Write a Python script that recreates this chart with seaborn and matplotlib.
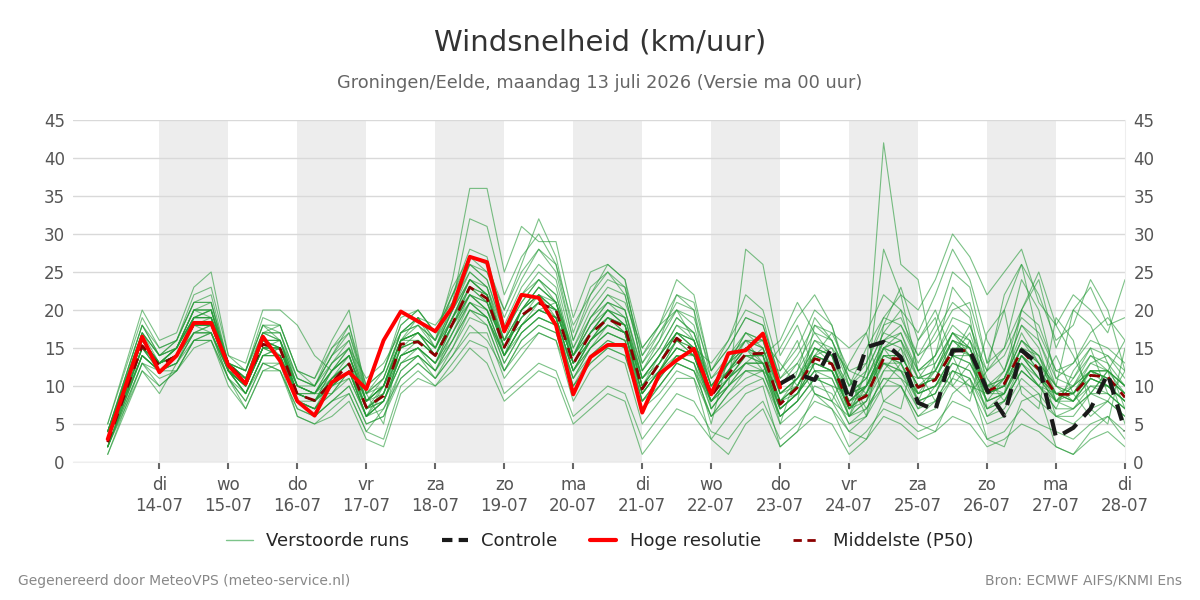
import pandas as pd
import matplotlib
matplotlib.use('Agg')
import matplotlib.pyplot as plt
from matplotlib.lines import Line2D
import seaborn as sns

# time axis: first two steps 12h apart, then 6-hourly until 28-07
times = pd.to_datetime(['2026-07-13 06:00', '2026-07-13 18:00']).append(
    pd.date_range('2026-07-14 00:00', '2026-07-28 00:00', freq='6h'))

day_names = ['di', 'wo', 'do', 'vr', 'za', 'zo', 'ma', 'di', 'wo', 'do', 'vr', 'za', 'zo', 'ma', 'di']
day_dates = ['14-07', '15-07', '16-07', '17-07', '18-07', '19-07', '20-07', '21-07',
             '22-07', '23-07', '24-07', '25-07', '26-07', '27-07', '28-07']

# hoge resolutie run (ends 23-07 00)
hres = [3.0, 16.5,
        11.8, 14.0, 18.3, 18.3,
        12.7, 10.3, 16.5, 13.3,
        8.0, 6.1, 10.5, 11.8,
        9.6, 16.0, 19.8, 18.5,
        17.2, 20.4, 27.0, 26.3,
        17.2, 22.0, 21.6, 18.0,
        8.9, 13.8, 15.4, 15.4,
        6.5, 11.6, 13.4, 14.9,
        8.9, 14.3, 14.7, 16.9,
        9.8]

# controle run (shown from 23-07 00)
controle = [10.3, 11.6, 10.8, 15.1,
            8.1, 15.1, 15.8, 13.8,
            7.8, 6.8, 14.7, 14.7,
            9.5, 6.1, 14.7, 12.9,
            3.2, 4.5, 7.0, 11.6,
            4.1]

# middelste (P50)
p50 = [2.6, 15.3,
       12.7, 14.0, 18.3, 18.3,
       12.9, 10.5, 15.5, 14.9,
       8.9, 8.1, 10.5, 12.9,
       7.2, 8.7, 15.5, 15.8,
       14.0, 18.2, 23.0, 21.5,
       15.1, 19.3, 20.9, 20.0,
       12.9, 16.9, 18.8, 17.8,
       9.6, 13.0, 16.3, 14.6,
       8.7, 11.6, 14.2, 14.3,
       7.6, 9.8, 13.6, 12.9,
       7.5, 8.7, 13.6, 13.6,
       9.8, 10.8, 14.6, 14.7,
       9.3, 10.3, 14.7, 12.2,
       8.9, 8.9, 11.4, 11.2,
       8.5]

# verstoorde runs (ensemble members)
members = [
    [4, 17, 14, 15, 19, 19, 13, 11, 16, 14, 8, 7, 11, 14, 8, 10, 17, 18, 15, 20, 24, 22, 14, 20, 22, 19, 12, 16, 18, 17, 9, 12, 15, 14, 8, 11, 13, 15, 7, 9, 15, 14, 9, 10, 13, 12, 11, 12, 16, 14, 8, 11, 17, 13, 10, 8, 12, 10, 8],
    [2, 14, 12, 13, 17, 17, 12, 9, 14, 15, 10, 9, 9, 12, 6, 8, 14, 15, 13, 17, 22, 20, 16, 18, 20, 21, 14, 18, 20, 19, 11, 14, 17, 16, 10, 13, 16, 15, 9, 11, 13, 12, 7, 8, 15, 16, 9, 10, 14, 17, 10, 9, 14, 11, 8, 10, 12, 12, 10],
    [5, 19, 15, 16, 21, 22, 13, 12, 18, 16, 11, 10, 14, 17, 10, 12, 19, 20, 17, 22, 28, 27, 18, 23, 26, 24, 15, 20, 23, 22, 13, 17, 20, 19, 12, 15, 19, 18, 11, 14, 18, 17, 12, 13, 18, 19, 14, 16, 20, 21, 13, 15, 20, 18, 12, 13, 16, 15, 13],
    [1, 13, 11, 12, 16, 16, 11, 8, 13, 12, 7, 6, 8, 10, 5, 6, 11, 13, 11, 14, 18, 16, 12, 15, 17, 16, 10, 13, 15, 14, 7, 9, 12, 11, 6, 8, 10, 11, 5, 7, 10, 9, 5, 6, 10, 10, 6, 7, 11, 10, 5, 6, 10, 8, 6, 5, 7, 8, 6],
    [3, 16, 13, 15, 20, 21, 12, 11, 17, 18, 12, 11, 16, 20, 9, 5, 16, 19, 18, 21, 32, 31, 22, 27, 30, 26, 18, 22, 26, 24, 12, 16, 22, 20, 7, 10, 28, 26, 14, 18, 12, 8, 6, 12, 17, 20, 17, 22, 28, 24, 16, 12, 20, 25, 18, 14, 9, 12, 16],
    [2, 15, 12, 14, 18, 18, 13, 10, 15, 16, 8, 7, 9, 12, 6, 10, 14, 15, 13, 18, 21, 19, 13, 17, 19, 18, 11, 15, 17, 16, 8, 11, 14, 13, 5, 14, 16, 13, 6, 8, 18, 16, 11, 7, 10, 13, 8, 9, 14, 18, 11, 8, 13, 10, 7, 12, 15, 9, 7],
    [4, 18, 14, 16, 22, 23, 14, 13, 20, 20, 18, 14, 12, 15, 11, 13, 17, 19, 16, 20, 26, 24, 17, 21, 24, 22, 14, 19, 22, 21, 15, 18, 24, 22, 12, 16, 20, 19, 10, 12, 16, 15, 12, 11, 16, 17, 12, 13, 17, 15, 9, 12, 18, 16, 11, 10, 14, 12, 10],
    [2, 12, 9, 13, 16, 17, 11, 7, 12, 13, 6, 5, 7, 9, 4, 3, 10, 12, 10, 13, 16, 15, 9, 11, 13, 12, 6, 8, 10, 9, 3, 6, 9, 8, 4, 3, 6, 8, 3, 5, 8, 7, 2, 4, 7, 6, 4, 5, 8, 7, 3, 4, 7, 5, 4, 3, 5, 6, 3],
    [3, 16, 13, 14, 19, 20, 12, 10, 16, 15, 9, 9, 13, 16, 8, 10, 16, 17, 14, 19, 22, 21, 15, 20, 23, 21, 13, 17, 19, 17, 10, 12, 16, 14, 9, 13, 15, 13, 8, 9, 12, 12, 7, 9, 13, 11, 9, 10, 13, 12, 8, 9, 13, 10, 9, 8, 11, 10, 8],
    [5, 20, 16, 17, 23, 25, 14, 12, 19, 18, 12, 10, 14, 16, 9, 12, 18, 20, 17, 23, 27, 25, 19, 24, 28, 26, 16, 21, 24, 23, 14, 17, 21, 20, 11, 14, 17, 16, 9, 11, 14, 13, 8, 10, 15, 16, 11, 12, 17, 16, 10, 11, 16, 14, 10, 9, 12, 12, 9],
    [3, 14, 12, 13, 17, 17, 12, 9, 14, 14, 9, 8, 10, 12, 7, 8, 13, 14, 12, 16, 20, 19, 14, 17, 19, 18, 12, 15, 17, 16, 9, 12, 14, 13, 8, 11, 13, 12, 7, 9, 12, 11, 6, 8, 12, 12, 8, 9, 13, 12, 7, 8, 12, 10, 8, 7, 10, 9, 7],
    [2, 13, 12, 12, 16, 17, 11, 9, 13, 13, 8, 6, 8, 10, 5, 6, 12, 14, 11, 14, 17, 17, 11, 14, 17, 16, 8, 12, 14, 13, 5, 8, 11, 11, 3, 6, 9, 10, 2, 4, 9, 8, 4, 3, 8, 10, 5, 4, 9, 11, 3, 2, 8, 9, 2, 1, 4, 6, 4],
    [4, 17, 14, 15, 20, 20, 13, 11, 17, 17, 10, 10, 14, 18, 9, 11, 17, 19, 15, 21, 25, 23, 16, 22, 25, 23, 14, 18, 21, 20, 11, 14, 18, 17, 10, 12, 15, 16, 9, 10, 14, 15, 9, 11, 16, 15, 11, 11, 16, 15, 10, 10, 15, 14, 9, 9, 13, 14, 11],
    [3, 15, 13, 14, 18, 19, 12, 10, 15, 15, 9, 8, 12, 14, 7, 9, 16, 17, 14, 19, 24, 23, 15, 19, 22, 20, 13, 16, 19, 18, 10, 13, 17, 15, 9, 12, 15, 14, 8, 10, 14, 13, 7, 10, 28, 22, 12, 14, 18, 16, 9, 10, 15, 13, 9, 10, 12, 11, 9],
    [3, 16, 13, 15, 19, 19, 13, 11, 16, 15, 10, 9, 11, 13, 8, 10, 16, 16, 14, 18, 23, 22, 15, 19, 21, 20, 13, 16, 18, 17, 9, 12, 15, 14, 8, 11, 13, 13, 7, 9, 13, 12, 8, 9, 13, 12, 9, 10, 14, 13, 9, 9, 14, 11, 9, 8, 11, 10, 8],
    [2, 14, 12, 14, 18, 18, 12, 10, 15, 14, 8, 7, 10, 12, 6, 9, 14, 15, 13, 18, 22, 20, 14, 18, 20, 19, 12, 16, 18, 17, 9, 12, 15, 14, 8, 11, 14, 13, 7, 9, 12, 12, 7, 12, 42, 26, 24, 12, 10, 13, 9, 10, 14, 12, 8, 9, 11, 10, 8],
    [4, 18, 14, 16, 21, 21, 13, 12, 18, 17, 11, 10, 15, 17, 9, 11, 17, 18, 16, 22, 26, 24, 17, 22, 24, 22, 14, 19, 21, 20, 12, 15, 19, 17, 10, 13, 16, 16, 9, 11, 15, 14, 9, 10, 15, 14, 10, 12, 16, 15, 10, 11, 15, 13, 10, 9, 12, 12, 10],
    [2, 13, 10, 12, 16, 16, 11, 8, 13, 12, 7, 6, 8, 9, 4, 7, 11, 13, 11, 15, 19, 18, 12, 16, 18, 17, 10, 13, 15, 14, 7, 10, 13, 12, 6, 9, 12, 12, 6, 8, 11, 10, 5, 7, 11, 10, 6, 8, 12, 11, 6, 7, 11, 9, 6, 6, 9, 8, 6],
    [3, 15, 13, 14, 18, 18, 13, 10, 15, 15, 9, 8, 11, 13, 7, 9, 15, 16, 14, 18, 23, 21, 15, 19, 21, 20, 13, 17, 19, 18, 10, 13, 16, 15, 9, 12, 14, 14, 16, 21, 17, 14, 10, 13, 19, 22, 20, 24, 30, 27, 22, 25, 28, 21, 18, 22, 20, 17, 24],
    [3, 16, 13, 15, 19, 20, 12, 10, 16, 16, 9, 9, 12, 15, 8, 10, 16, 17, 15, 19, 24, 22, 15, 20, 22, 20, 13, 17, 20, 18, 10, 14, 17, 15, 13, 16, 22, 20, 12, 15, 20, 18, 10, 15, 19, 18, 14, 18, 25, 23, 13, 20, 26, 22, 16, 18, 24, 20, 12],
    [3, 15, 12, 14, 18, 18, 12, 10, 15, 15, 8, 8, 10, 12, 7, 8, 14, 15, 13, 17, 21, 20, 14, 18, 20, 19, 12, 16, 18, 17, 9, 12, 15, 14, 8, 10, 13, 13, 7, 9, 13, 12, 6, 8, 13, 13, 8, 9, 14, 13, 8, 9, 13, 11, 8, 8, 10, 10, 8],
    [4, 17, 13, 15, 20, 20, 13, 11, 17, 16, 10, 9, 13, 15, 8, 10, 16, 17, 15, 20, 24, 22, 16, 20, 23, 21, 14, 17, 20, 19, 11, 14, 17, 16, 9, 12, 15, 14, 8, 10, 14, 13, 8, 10, 14, 14, 10, 11, 15, 14, 9, 10, 14, 12, 9, 9, 12, 11, 9],
    [3, 14, 12, 14, 17, 18, 12, 9, 14, 15, 8, 7, 10, 12, 6, 8, 14, 15, 12, 17, 21, 19, 14, 18, 20, 19, 12, 15, 18, 17, 8, 11, 14, 14, 7, 10, 13, 13, 12, 16, 9, 8, 13, 17, 8, 7, 16, 19, 10, 8, 17, 20, 9, 7, 19, 16, 7, 5, 15],
    [2, 14, 12, 13, 17, 17, 12, 9, 14, 14, 8, 7, 9, 11, 6, 8, 13, 14, 12, 16, 20, 19, 13, 17, 19, 18, 11, 15, 17, 16, 8, 11, 14, 13, 7, 10, 12, 12, 6, 8, 11, 11, 6, 7, 11, 11, 7, 8, 12, 11, 7, 8, 12, 10, 7, 7, 9, 9, 7],
    [3, 16, 13, 14, 19, 19, 13, 10, 16, 15, 9, 8, 11, 13, 7, 10, 16, 18, 16, 24, 36, 36, 25, 31, 29, 29, 19, 25, 26, 24, 15, 18, 20, 16, 10, 13, 17, 15, 9, 11, 15, 14, 8, 10, 15, 14, 10, 11, 16, 14, 9, 10, 15, 12, 9, 9, 12, 11, 9],
    [3, 15, 13, 14, 18, 18, 12, 10, 15, 15, 9, 8, 11, 13, 7, 9, 14, 16, 14, 18, 22, 20, 14, 18, 21, 19, 12, 16, 19, 17, 9, 12, 16, 14, 8, 11, 14, 14, 7, 9, 13, 12, 7, 9, 14, 13, 9, 10, 14, 14, 8, 9, 14, 11, 9, 8, 11, 10, 8],
    [1, 12, 10, 12, 15, 16, 10, 7, 12, 12, 6, 5, 6, 8, 3, 2, 9, 11, 10, 12, 15, 13, 8, 10, 12, 11, 5, 7, 9, 8, 1, 4, 7, 6, 3, 1, 5, 7, 2, 4, 6, 5, 1, 3, 6, 5, 3, 4, 6, 5, 2, 3, 5, 4, 2, 1, 3, 4, 2],
    [4, 18, 15, 16, 21, 21, 13, 12, 18, 18, 12, 11, 15, 18, 10, 12, 18, 20, 17, 22, 27, 26, 20, 25, 28, 25, 16, 22, 25, 23, 14, 18, 22, 21, 12, 15, 19, 18, 11, 13, 17, 16, 10, 12, 17, 16, 12, 14, 19, 18, 12, 14, 19, 17, 12, 11, 15, 14, 12],
    [3, 15, 13, 14, 18, 18, 12, 10, 15, 15, 9, 8, 11, 13, 7, 9, 15, 16, 14, 18, 22, 21, 15, 19, 21, 20, 13, 16, 19, 18, 10, 13, 16, 15, 9, 11, 14, 14, 5, 12, 19, 16, 11, 6, 18, 23, 16, 20, 14, 9, 12, 22, 26, 16, 10, 20, 23, 18, 19],
    [3, 16, 13, 15, 19, 19, 13, 11, 16, 16, 10, 9, 12, 14, 8, 10, 16, 17, 14, 19, 23, 22, 15, 20, 22, 20, 14, 17, 20, 18, 11, 13, 17, 15, 9, 12, 15, 14, 8, 10, 14, 13, 8, 10, 14, 14, 10, 11, 15, 15, 9, 10, 15, 12, 9, 9, 12, 11, 9],
    [3, 16, 13, 15, 19, 20, 12, 11, 16, 15, 10, 9, 12, 14, 8, 11, 17, 19, 16, 21, 26, 25, 20, 26, 32, 27, 17, 23, 25, 22, 13, 16, 20, 18, 10, 13, 15, 12, 15, 19, 22, 18, 11, 9, 16, 18, 13, 17, 21, 19, 7, 9, 20, 24, 15, 20, 18, 13, 10],
    [2, 15, 12, 14, 17, 18, 12, 10, 15, 14, 9, 8, 10, 12, 6, 8, 13, 15, 13, 16, 21, 19, 14, 18, 20, 19, 10, 14, 16, 15, 8, 10, 13, 12, 6, 9, 11, 12, 10, 13, 9, 7, 4, 6, 12, 15, 8, 13, 17, 14, 6, 8, 12, 10, 14, 9, 6, 8, 12],
    [4, 17, 14, 15, 20, 20, 13, 12, 17, 17, 11, 10, 13, 15, 9, 10, 16, 17, 15, 20, 25, 23, 17, 21, 24, 21, 15, 19, 22, 20, 12, 15, 19, 17, 11, 13, 17, 16, 13, 10, 14, 17, 15, 17, 22, 20, 12, 8, 11, 16, 12, 15, 24, 20, 11, 13, 17, 19, 16],
    [3, 14, 12, 13, 18, 17, 12, 9, 14, 14, 8, 7, 10, 11, 6, 7, 12, 14, 12, 15, 20, 18, 12, 16, 18, 17, 11, 14, 16, 15, 7, 10, 13, 12, 8, 10, 12, 11, 6, 8, 11, 10, 9, 11, 15, 12, 7, 10, 12, 10, 9, 11, 16, 13, 6, 7, 9, 12, 5],
    [3, 15, 13, 14, 19, 19, 12, 10, 16, 16, 9, 8, 12, 14, 8, 9, 15, 16, 14, 19, 23, 21, 16, 20, 23, 21, 14, 18, 21, 19, 10, 13, 17, 16, 9, 12, 14, 13, 8, 11, 16, 14, 6, 10, 15, 17, 11, 14, 23, 20, 10, 12, 18, 15, 8, 11, 14, 13, 7],
    [4, 16, 13, 15, 20, 19, 13, 11, 17, 16, 10, 9, 12, 14, 8, 10, 15, 17, 15, 19, 24, 22, 16, 20, 22, 21, 13, 17, 20, 18, 11, 14, 18, 16, 9, 12, 16, 15, 8, 10, 15, 13, 7, 9, 14, 13, 9, 12, 17, 15, 9, 11, 16, 14, 8, 10, 13, 12, 10],
]

# long table for seaborn
ens = pd.concat([pd.DataFrame({'tijd': times, 'wind': m, 'run': i}) for i, m in enumerate(members)])
hres_df = pd.DataFrame({'tijd': times[:len(hres)], 'wind': hres})
ctrl_df = pd.DataFrame({'tijd': times[len(hres) - 1:], 'wind': controle})
p50_df = pd.DataFrame({'tijd': times, 'wind': p50})

sns.set_style('white')
plt.rcParams['font.family'] = ['DejaVu Sans']

fig = plt.figure(figsize=(12, 6), dpi=100)
ax = fig.add_axes([0.061, 0.23, 0.8765, 0.57])

# grey band every other day
for d in range(14, 28, 2):
    ax.axvspan(pd.Timestamp(2026, 7, d), pd.Timestamp(2026, 7, d + 1), color='#ededed', lw=0, zorder=0)

sns.lineplot(data=ens, x='tijd', y='wind', units='run', estimator=None, color='#259a37',
             alpha=0.6, lw=0.8, ax=ax, legend=False)
sns.lineplot(data=p50_df, x='tijd', y='wind', color='#8b0000', lw=2, ax=ax, legend=False)
ax.lines[-1].set_dashes([4, 3])
sns.lineplot(data=ctrl_df, x='tijd', y='wind', color='#1a1a1a', lw=3, ax=ax, legend=False)
ax.lines[-1].set_dashes([4, 2.5])
sns.lineplot(data=hres_df, x='tijd', y='wind', color='#ff0000', lw=2.8, ax=ax, legend=False)

ax.set_xlim(pd.Timestamp('2026-07-12 18:00'), pd.Timestamp('2026-07-28 00:00'))
ax.set_ylim(0, 45)
ax.set_yticks(range(0, 50, 5))
ax.yaxis.grid(True, color='#d9d9d9', lw=1)
ax.set_axisbelow(True)
ax.tick_params(axis='y', length=0, labelright=True, labelsize=12, labelcolor='#555555', pad=6)

ax.set_xticks([pd.Timestamp(2026, 7, d) for d in range(14, 29)])
ax.set_xticklabels([f'{n}\n{d}' for n, d in zip(day_names, day_dates)])
ax.tick_params(axis='x', length=5, width=1.5, color='#666666', labelsize=12, labelcolor='#555555', pad=5,
               bottom=True)
ax.set_xlabel('')
ax.set_ylabel('')
for s in ['top', 'left']:
    ax.spines[s].set_visible(False)
ax.spines['bottom'].set_color('#eeeeee')
ax.spines['right'].set_color('#eeeeee')

fig.text(0.5, 0.93, 'Windsnelheid (km/uur)', ha='center', va='center', fontsize=21, color='#333333')
fig.text(0.5, 0.862, 'Groningen/Eelde, maandag 13 juli 2026 (Versie ma 00 uur)', ha='center', va='center',
         fontsize=12.8, color='#666666')

handles = [
    Line2D([], [], color='#7cc48a', lw=1),
    Line2D([], [], color='#1a1a1a', lw=3, dashes=[2.5, 1.5]),
    Line2D([], [], color='#ff0000', lw=3),
    Line2D([], [], color='#8b0000', lw=2, dashes=[3, 2]),
]
fig.legend(handles, ['Verstoorde runs', 'Controle', 'Hoge resolutie', 'Middelste (P50)'],
           loc='center', bbox_to_anchor=(0.5, 0.098), ncol=4, frameon=False, fontsize=13,
           handlelength=1.45, columnspacing=1.8, handletextpad=0.75)

fig.text(0.015, 0.032, 'Gegenereerd door MeteoVPS (meteo-service.nl)', ha='left', va='center',
         fontsize=10, color='#888888')
fig.text(0.985, 0.032, 'Bron: ECMWF AIFS/KNMI Ens', ha='right', va='center', fontsize=10, color='#888888')

fig.savefig('out.png', dpi=100)
